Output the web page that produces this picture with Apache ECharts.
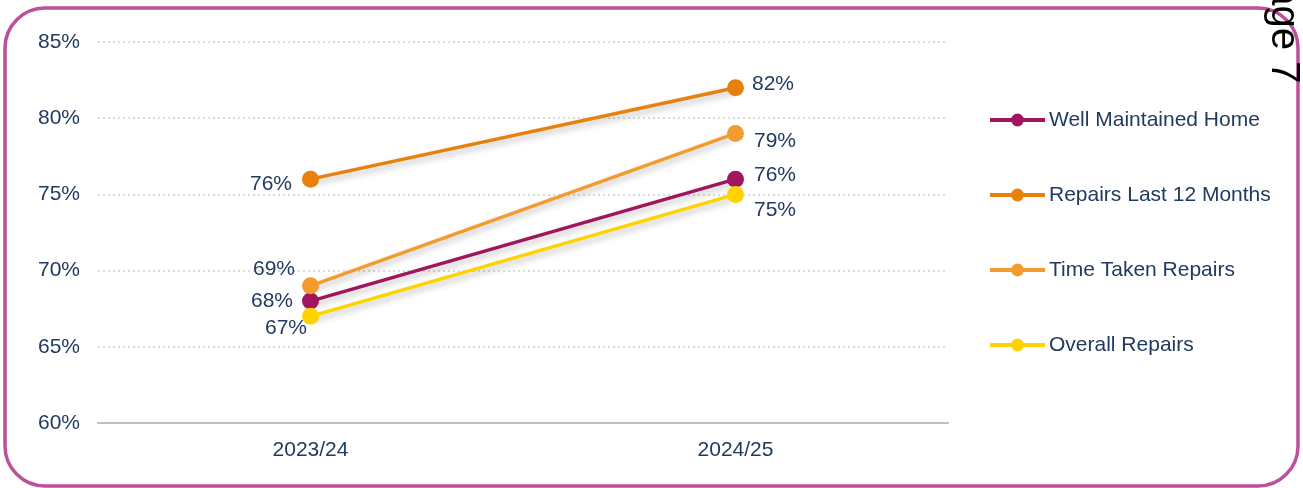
<!DOCTYPE html>
<html>
<head>
<meta charset="utf-8">
<script src="https://cdn.jsdelivr.net/npm/echarts@6/dist/echarts.min.js"></script>
<style>html,body{margin:0;padding:0;background:#fff;}#c{width:1303px;height:488px;}</style>
</head>
<body>
<div id="c"></div>
<script>
var categories = ['2023/24', '2024/25'];
var wellMaintained = [68, 76];
var repairsLast12 = [76, 82];
var timeTaken = [69, 79];
var overallRepairs = [67, 75];
var yTicks = [60, 65, 70, 75, 80, 85];

var txt = '#203A60';
var font = '"Liberation Sans", Arial, sans-serif';
var chart = echarts.init(document.getElementById('c'));

function mk(name, data, color, labelCfg) {
  return {
    name: name, type: 'line', data: data.map(function (v, i) {
      return { value: v, label: labelCfg[i] };
    }),
    symbol: 'circle', symbolSize: 17,
    lineStyle: { color: color, width: 3.5, shadowColor: 'rgba(0,0,0,0.25)', shadowBlur: 6, shadowOffsetY: 4 },
    itemStyle: { color: color },
    label: { show: true, color: txt, fontSize: 21, fontFamily: font, formatter: '{c}%' },
    emphasis: { disabled: true },
    animation: false
  };
}

chart.setOption({
  animation: false,
  grid: { left: 98, right: 355, top: 42, bottom: 65 },
  xAxis: {
    type: 'category', data: categories, boundaryGap: true,
    axisLine: { lineStyle: { color: '#BFBFBF', width: 2 } },
    axisTick: { show: false },
    axisLabel: { color: txt, fontSize: 21, fontFamily: font, margin: 17 }
  },
  yAxis: {
    type: 'value', min: yTicks[0], max: yTicks[yTicks.length - 1], interval: 5,
    axisLine: { show: false }, axisTick: { show: false },
    axisLabel: { color: txt, fontSize: 21, fontFamily: font, margin: 18, formatter: '{value}%' },
    splitLine: { lineStyle: { color: '#CFCFCF', type: [2, 3], width: 1.5 } }
  },
  legend: {
    orient: 'vertical', left: 983, top: 103, itemGap: 51, itemWidth: 55, itemHeight: 16,
    lineStyle: { width: 4 },
    textStyle: { color: txt, fontSize: 21, fontFamily: font, lineHeight: 24, padding: [0, 0, 0, -1] },
    data: ['Well Maintained Home', 'Repairs Last 12 Months', 'Time Taken Repairs', 'Overall Repairs']
  },
  series: [
    mk('Well Maintained Home', wellMaintained, '#A3145F', [
      { position: 'left', distance: 9, offset: [0, 0] },
      { position: 'right', distance: 10, offset: [0, -4] }
    ]),
    mk('Repairs Last 12 Months', repairsLast12, '#E8800E', [
      { position: 'left', distance: 10, offset: [0, 5] },
      { position: 'right', distance: 8, offset: [0, -4] }
    ]),
    mk('Time Taken Repairs', timeTaken, '#F49B30', [
      { position: 'left', distance: 7, offset: [0, -17] },
      { position: 'right', distance: 10, offset: [0, 8] }
    ]),
    mk('Overall Repairs', overallRepairs, '#FFD200', [
      { position: 'left', distance: 12, offset: [17, 12] },
      { position: 'right', distance: 10, offset: [0, 16] }
    ])
  ],
  graphic: [
    { type: 'rect', shape: { x: 5, y: 8, width: 1293, height: 478, r: 40 }, style: { fill: 'none', stroke: '#BE4F9C', lineWidth: 3.5 }, z: -1 },
    { type: 'text', x: 1283, y: 20, rotation: -Math.PI / 2,
      style: { text: 'Page 7', fill: '#000', fontSize: 40, fontFamily: font, align: 'center', verticalAlign: 'middle' } }
  ]
});
</script>
</body>
</html>
